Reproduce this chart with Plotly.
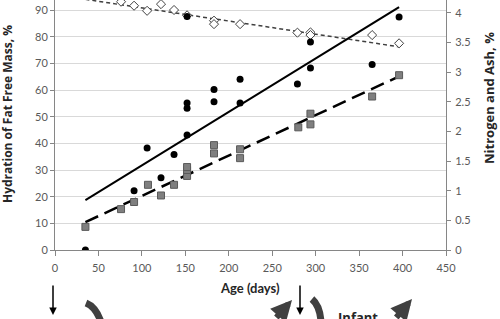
import plotly.graph_objects as go

# ---------------- data ----------------
circle_days = [35, 91, 106, 122, 137, 152, 152, 152, 152, 183, 183, 213, 213, 279, 294, 294, 365, 396]
circle_vals = [0.0, 1.00, 1.72, 1.22, 1.61, 1.94, 2.39, 2.48, 3.94, 2.50, 2.71, 2.48, 2.88, 2.80, 3.07, 3.51, 3.13, 3.93]
circle_trend_days = [35, 396]
circle_trend_vals = [0.84, 4.10]

square_days = [35, 76, 91, 107, 122, 137, 152, 152, 152, 183, 183, 213, 213, 280, 294, 294, 365, 396]
square_vals = [0.39, 0.69, 0.81, 1.10, 0.92, 1.10, 1.25, 1.35, 1.40, 1.77, 1.63, 1.70, 1.55, 2.07, 2.30, 2.12, 2.59, 2.95]
square_trend_days = [35, 396]
square_trend_vals = [0.47, 2.93]

diamond_days = [76, 91, 106, 122, 137, 152, 183, 183, 213, 279, 294, 294, 365, 396]
diamond_vals = [93.1, 91.6, 89.7, 92.2, 90.0, 88.0, 86.0, 84.7, 84.7, 81.5, 81.6, 80.6, 80.6, 77.5]
diamond_trend_days = [35, 396]
diamond_trend_vals = [94.0, 76.2]

x_ticks = [0, 50, 100, 150, 200, 250, 300, 350, 400, 450]
left_ticks = [0, 10, 20, 30, 40, 50, 60, 70, 80, 90]
right_ticks = [0, 0.5, 1, 1.5, 2, 2.5, 3, 3.5, 4]

# ---------------- figure ----------------
W, H = 500, 319
L, R, T, B = 55, 54, 0, 69
FONT = "Lato"
TFONT = "Open Sans"
TICKC = "#595959"
TOP_LEFT = 93.75

def px(xp):
    return (xp - L) / (W - L - R)

def py(yp):
    return (H - B - yp) / (H - B - T)

fig = go.Figure()

fig.add_trace(go.Scatter(x=diamond_trend_days, y=diamond_trend_vals, mode="lines",
                         line=dict(color="#404040", width=1.5, dash="4px,3px"),
                         yaxis="y", showlegend=False, hoverinfo="skip"))
fig.add_trace(go.Scatter(x=diamond_days, y=diamond_vals, mode="markers",
                         marker=dict(symbol="diamond", size=7, color="white",
                                     line=dict(color="#404040", width=1)),
                         yaxis="y", showlegend=False))
fig.add_trace(go.Scatter(x=square_trend_days, y=square_trend_vals, mode="lines",
                         line=dict(color="black", width=2.5, dash="14px,7px"),
                         yaxis="y2", showlegend=False, hoverinfo="skip"))
fig.add_trace(go.Scatter(x=square_days, y=square_vals, mode="markers",
                         marker=dict(symbol="square", size=7, color="#7f7f7f",
                                     line=dict(color="#5a5a5a", width=1)),
                         yaxis="y2", showlegend=False))
fig.add_trace(go.Scatter(x=circle_trend_days, y=circle_trend_vals, mode="lines",
                         line=dict(color="black", width=2),
                         yaxis="y2", showlegend=False, hoverinfo="skip"))
fig.add_trace(go.Scatter(x=circle_days, y=circle_vals, mode="markers",
                         marker=dict(symbol="circle", size=7, color="black"),
                         yaxis="y2", showlegend=False))

fig.update_layout(
    width=W, height=H,
    margin=dict(l=L, r=R, t=T, b=B, pad=0),
    paper_bgcolor="white", plot_bgcolor="white",
    font=dict(family=FONT, size=11, color=TICKC),
    xaxis=dict(range=[0, 450], tickvals=x_ticks, showgrid=False, zeroline=False,
               showline=True, linecolor="#868686", linewidth=1,
               ticks="outside", ticklen=5, tickcolor="#868686",
               ticklabelstandoff=3,
               tickfont=dict(family=FONT, size=11, color=TICKC)),
    yaxis=dict(range=[0, TOP_LEFT], tickvals=left_ticks, showgrid=True,
               gridcolor="#d9d9d9", gridwidth=1, zeroline=False,
               showline=True, linecolor="#868686", linewidth=1,
               ticks="outside", ticklen=4, tickcolor="#868686",
               tickfont=dict(family=FONT, size=11, color=TICKC)),
    yaxis2=dict(range=[0, TOP_LEFT * 4.5 / 100], tickvals=right_ticks, overlaying="y",
                side="right", showgrid=False, zeroline=False,
                showline=True, linecolor="#868686", linewidth=1,
                ticks="outside", ticklen=4, tickcolor="#868686",
                ticklabelstandoff=2,
                tickfont=dict(family=FONT, size=11, color=TICKC)),
)

ann = []
ann.append(dict(text="Hydration of Fat Free Mass, %", xref="paper", yref="paper",
                x=px(8), y=py(114), textangle=-90, showarrow=False,
                font=dict(family=TFONT, size=12, color="#262626", weight="bold"),
                xanchor="center", yanchor="middle", borderpad=0))
ann.append(dict(text="Nitrogen and Ash, %", xref="paper", yref="paper",
                x=px(489), y=py(98), textangle=-90, showarrow=False,
                font=dict(family=TFONT, size=13, color="#262626", weight="bold"),
                xanchor="center", yanchor="middle", borderpad=0))
ann.append(dict(text="Age (days)", xref="paper", yref="paper",
                x=px(250), y=py(288), showarrow=False,
                font=dict(family=FONT, size=13, color="#262626", weight="bold"),
                xanchor="center", yanchor="middle"))
for xa in (53, 300):
    ann.append(dict(text="", xref="paper", yref="paper", x=px(xa), y=py(315),
                    ax=0, ay=-31, axref="pixel", ayref="pixel",
                    showarrow=True, arrowhead=2, arrowsize=1, arrowwidth=1.5,
                    arrowcolor="black"))
for (hx, hy, tx, ty) in ((292, 300, 275, 322), (412, 299, 395, 322)):
    ann.append(dict(text="", xref="paper", yref="paper", x=px(hx), y=py(hy),
                    ax=tx - hx, ay=ty - hy, axref="pixel", ayref="pixel",
                    showarrow=True, arrowhead=2, arrowsize=0.7, arrowwidth=6,
                    arrowcolor="#404040"))
fig.update_layout(annotations=ann)

def path(points):
    (x0, y0), (xc, yc), (x1, y1) = points
    return f"M {px(x0)} {py(y0)} Q {px(xc)} {py(yc)} {px(x1)} {py(y1)}"

fig.add_shape(type="path", xref="paper", yref="paper",
              path=path([(86, 303), (96, 307), (101, 322)]),
              line=dict(color="#404040", width=7))
fig.add_shape(type="path", xref="paper", yref="paper",
              path=path([(312, 299), (320, 306), (321, 322)]),
              line=dict(color="#404040", width=7))

# partially visible label of the diagram below the chart (cut by the picture edge)
fig.add_shape(type="rect", xref="paper", yref="paper",
              x0=px(330), x1=px(386), y0=py(326), y1=py(310),
              line=dict(width=0), fillcolor="rgba(0,0,0,0)",
              label=dict(text="Infant", textposition="middle center",
                         font=dict(family=TFONT, size=13, color="#262626", weight="bold")))

fig.write_html("out.html",
               config={"displayModeBar": False},
               post_script="document.body.style.margin='0';document.body.style.padding='0';")
